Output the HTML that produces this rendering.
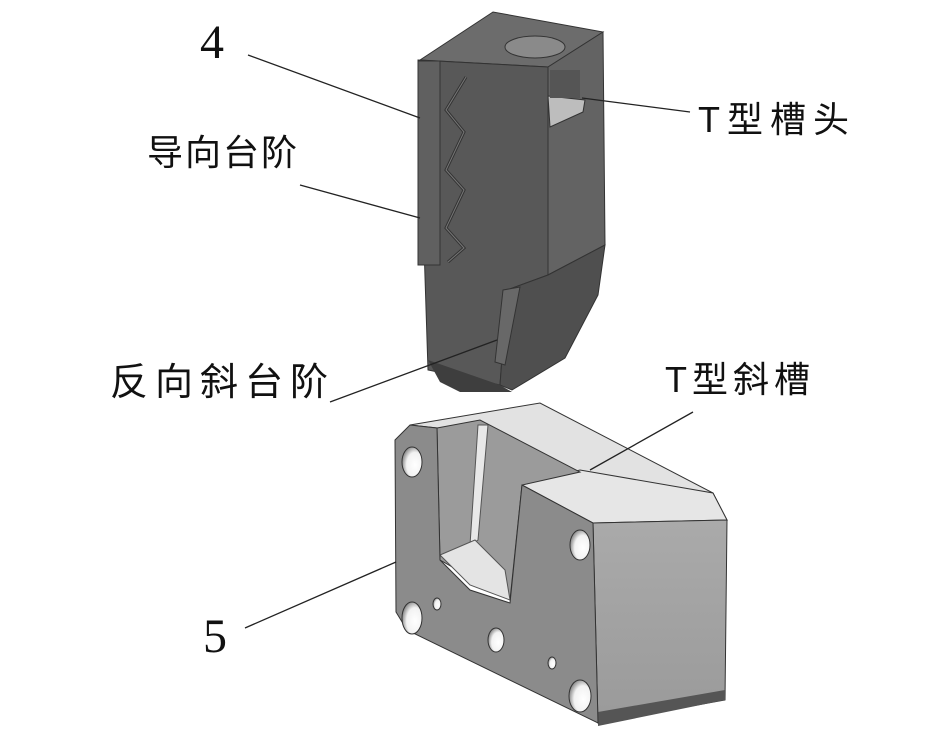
<!DOCTYPE html>
<html><head><meta charset="utf-8"><style>
html,body{margin:0;padding:0;background:#fff;}
svg{display:block}
.t{font-family:"Liberation Serif","Noto Sans CJK SC",serif;fill:#111}
.c{font-family:"Liberation Sans","Noto Sans CJK SC",sans-serif;fill:#111;letter-spacing:2px}
</style></head><body>
<svg width="938" height="738" viewBox="0 0 938 738" xmlns="http://www.w3.org/2000/svg">
<defs>
<radialGradient id="h" cx="0.65" cy="0.6" r="0.7"><stop offset="0" stop-color="#fff"/><stop offset="0.6" stop-color="#f2f2f2"/><stop offset="1" stop-color="#777"/></radialGradient>
<linearGradient id="rf" x1="0" y1="0" x2="0" y2="1"><stop offset="0" stop-color="#aaa"/><stop offset="1" stop-color="#9a9a9a"/></linearGradient>
</defs>
<polygon points="420,60 493,12 603,32 548,67" fill="#6c6c6c" stroke="#333" stroke-width="1"/>
<ellipse cx="535" cy="47" rx="30" ry="11" fill="#8a8a8a" stroke="#333"/>
<polygon points="548,67 603,32 605,245 548,275" fill="#636363" stroke="#333" stroke-width="1"/>
<polygon points="548,96 585,100 583,112 550,127" fill="#bdbdbd" stroke="#333"/>
<rect x="550" y="70" width="30" height="28" fill="#555" />
<polygon points="418,60 548,67 548,275 507,290 500,385 428,370" fill="#585858" stroke="#333" stroke-width="1"/>
<polygon points="507,290 548,275 605,245 598,295 565,358 512,390 500,385" fill="#4f4f4f" stroke="#333"/>
<polygon points="428,360 500,385 512,392 460,392 440,382" fill="#3e3e3e"/>
<polygon points="503,290 520,287 505,365 495,362" fill="#686868" stroke="#333"/>
<rect x="418" y="61" width="22" height="204" fill="#606060" stroke="#333"/>
<polyline points="466,77 446,110 464,132 446,170 464,190 446,228 464,248 448,262" fill="none" stroke="#333" stroke-width="3"/>
<polyline points="466,77 446,110 464,132 446,170 464,190 446,228 464,248 448,262" fill="none" stroke="#777" stroke-width="1"/>
<polygon points="410,425 540,403 713,493 727,520 593,523 522,485 437,428" fill="#e2e2e2" stroke="#333"/>
<polygon points="522,485 580,470 713,493 727,520 593,523" fill="#e6e6e6" stroke="#333"/>
<polygon points="437,428 480,420 580,472 522,485 510,600 440,560" fill="#9b9b9b" stroke="#333"/>
<polygon points="478,425 488,425 478,540 470,545" fill="#e8e8e8" stroke="#555"/>
<polygon points="440,555 475,540 505,570 510,600 470,585" fill="#e4e4e4" stroke="#555"/>
<polygon points="593,523 727,520 725,700 598,723" fill="url(#rf)" stroke="#333"/>
<polygon points="598,712 725,690 725,700 598,726" fill="#555"/>
<polygon points="395,440 410,425 437,428 440,560 470,590 510,603 522,485 593,523 598,723 407,630 396,612" fill="#8b8b8b" stroke="#333"/>
<ellipse cx="412" cy="462" rx="10" ry="15" fill="url(#h)" stroke="#333"/>
<ellipse cx="412" cy="618" rx="10" ry="16" fill="url(#h)" stroke="#333"/>
<ellipse cx="496" cy="640" rx="8" ry="12" fill="url(#h)" stroke="#333"/>
<ellipse cx="437" cy="604" rx="4" ry="6" fill="url(#h)" stroke="#333"/>
<ellipse cx="552" cy="663" rx="4" ry="6" fill="url(#h)" stroke="#333"/>
<ellipse cx="580" cy="545" rx="10" ry="15" fill="url(#h)" stroke="#333"/>
<ellipse cx="580" cy="696" rx="11" ry="16" fill="url(#h)" stroke="#333"/>
<g stroke="#222" stroke-width="1.3">
<line x1="248" y1="55" x2="420" y2="118"/>
<line x1="300" y1="185" x2="420" y2="218"/>
<line x1="582" y1="98" x2="690" y2="112"/>
<line x1="330" y1="402" x2="497" y2="340"/>
<line x1="590" y1="470" x2="693" y2="412"/>
<line x1="245" y1="628" x2="396" y2="562"/>
</g>
<text class="t" x="200" y="58" font-size="48">4</text>
<text class="t" x="203" y="652" font-size="48">5</text>
<text class="c" x="147" y="165" font-size="36">导向台阶</text>
<text class="c" x="698" y="132" font-size="36" style="letter-spacing:7px">T型槽头</text>
<text class="c" x="110" y="395" font-size="38" style="letter-spacing:7px">反向斜台阶</text>
<text class="c" x="665" y="392" font-size="36" style="letter-spacing:5px">T型斜槽</text>
</svg>
</body></html>
